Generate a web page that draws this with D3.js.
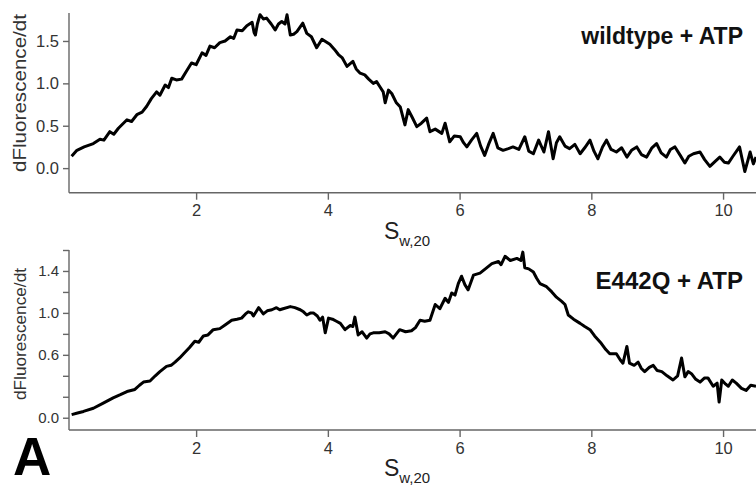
<!DOCTYPE html>
<html>
<head>
<meta charset="utf-8">
<script src="https://cdn.jsdelivr.net/npm/d3@7"></script>
<style>
  body { margin: 0; background: #fff; }
  svg { display: block; font-family: "Liberation Sans", Arial, sans-serif; }
</style>
</head>
<body>
<div id="chart"></div>
<script>
// sedimentation coefficient (S) and dF/dt values
var wtS = [0.11,0.19,0.30,0.44,0.54,0.60,0.69,0.75,0.82,0.95,1.02,1.10,1.18,1.25,1.32,1.40,1.45,1.53,1.58,1.63,1.70,1.78,1.85,1.93,2.00,2.09,2.15,2.21,2.28,2.36,2.44,2.52,2.57,2.62,2.70,2.77,2.85,2.88,2.90,2.93,2.97,3.02,3.07,3.14,3.20,3.25,3.30,3.35,3.38,3.43,3.48,3.53,3.62,3.68,3.75,3.83,3.91,3.97,4.03,4.10,4.16,4.22,4.29,4.38,4.43,4.49,4.56,4.62,4.69,4.74,4.79,4.84,4.87,4.92,4.97,5.04,5.10,5.17,5.22,5.28,5.35,5.42,5.50,5.55,5.63,5.73,5.78,5.85,5.92,6.01,6.06,6.11,6.18,6.26,6.32,6.38,6.44,6.51,6.58,6.66,6.74,6.81,6.90,6.99,7.05,7.12,7.20,7.28,7.35,7.42,7.47,7.52,7.60,7.67,7.75,7.83,7.90,7.98,8.04,8.10,8.17,8.23,8.30,8.38,8.46,8.54,8.61,8.69,8.76,8.84,8.92,8.99,9.06,9.14,9.20,9.27,9.35,9.42,9.48,9.55,9.65,9.72,9.80,9.88,9.95,10.02,10.08,10.15,10.25,10.33,10.38,10.41,10.46,10.50];
var wtV = [0.14,0.21,0.25,0.29,0.34,0.33,0.43,0.40,0.47,0.57,0.55,0.63,0.66,0.73,0.82,0.90,0.86,0.98,0.95,1.06,1.04,1.05,1.14,1.24,1.22,1.36,1.33,1.44,1.42,1.48,1.50,1.55,1.53,1.63,1.62,1.68,1.72,1.60,1.57,1.70,1.81,1.76,1.77,1.70,1.63,1.70,1.73,1.70,1.81,1.57,1.58,1.61,1.71,1.59,1.55,1.42,1.52,1.49,1.46,1.40,1.34,1.30,1.20,1.26,1.17,1.12,1.10,1.05,1.00,1.02,0.96,0.90,0.77,0.92,0.88,0.77,0.72,0.51,0.69,0.60,0.49,0.53,0.59,0.43,0.46,0.41,0.53,0.31,0.38,0.37,0.30,0.25,0.33,0.41,0.26,0.15,0.28,0.41,0.24,0.21,0.23,0.25,0.22,0.37,0.20,0.17,0.33,0.19,0.43,0.11,0.30,0.37,0.26,0.23,0.28,0.17,0.24,0.33,0.20,0.11,0.25,0.33,0.22,0.19,0.24,0.13,0.21,0.25,0.16,0.13,0.24,0.29,0.18,0.13,0.22,0.25,0.15,0.06,0.14,0.17,0.19,0.10,0.02,0.08,0.13,0.07,0.06,0.14,0.25,-0.04,0.10,0.19,0.05,0.13];

var mutS = [0.11,0.20,0.29,0.44,0.59,0.74,0.85,0.95,1.07,1.14,1.20,1.30,1.38,1.45,1.55,1.62,1.68,1.75,1.81,1.90,1.98,2.04,2.11,2.18,2.26,2.36,2.45,2.54,2.62,2.69,2.75,2.79,2.84,2.87,2.92,2.95,3.02,3.08,3.15,3.22,3.27,3.32,3.43,3.50,3.58,3.63,3.68,3.74,3.78,3.84,3.88,3.92,3.96,4.01,4.07,4.13,4.19,4.26,4.34,4.38,4.41,4.46,4.52,4.59,4.64,4.69,4.78,4.87,4.93,4.99,5.09,5.18,5.27,5.33,5.40,5.47,5.55,5.63,5.70,5.78,5.83,5.88,5.93,5.98,6.03,6.08,6.13,6.21,6.31,6.41,6.49,6.59,6.63,6.69,6.77,6.87,6.93,6.96,6.99,7.05,7.12,7.17,7.22,7.32,7.40,7.47,7.55,7.60,7.65,7.73,7.83,7.90,7.98,8.05,8.15,8.22,8.28,8.38,8.44,8.48,8.54,8.58,8.65,8.71,8.76,8.81,8.88,8.94,9.00,9.07,9.15,9.24,9.31,9.37,9.42,9.47,9.52,9.58,9.65,9.72,9.77,9.85,9.91,9.94,9.98,10.04,10.08,10.14,10.20,10.28,10.35,10.42,10.50];
var mutV = [0.03,0.045,0.06,0.09,0.14,0.19,0.22,0.25,0.27,0.31,0.34,0.35,0.40,0.44,0.49,0.50,0.53,0.57,0.61,0.67,0.73,0.72,0.78,0.79,0.84,0.85,0.89,0.93,0.94,0.95,0.99,1.01,1.00,0.97,1.02,1.05,0.99,1.02,1.03,1.05,1.03,1.04,1.06,1.05,1.03,1.01,0.98,1.00,1.00,0.97,0.93,0.96,0.81,0.95,0.94,0.92,0.90,0.84,0.88,0.87,0.96,0.79,0.82,0.76,0.80,0.81,0.81,0.82,0.80,0.76,0.84,0.82,0.83,0.86,0.93,0.92,0.93,1.08,1.04,1.14,1.10,1.19,1.17,1.28,1.35,1.27,1.22,1.36,1.38,1.43,1.47,1.49,1.46,1.54,1.50,1.52,1.50,1.58,1.43,1.42,1.39,1.33,1.28,1.25,1.20,1.15,1.11,1.08,0.98,0.94,0.90,0.87,0.84,0.78,0.71,0.65,0.61,0.61,0.55,0.52,0.68,0.52,0.50,0.53,0.47,0.44,0.48,0.50,0.45,0.44,0.40,0.36,0.40,0.57,0.39,0.44,0.42,0.37,0.34,0.38,0.38,0.30,0.33,0.15,0.36,0.32,0.30,0.36,0.33,0.28,0.26,0.31,0.30];

var xTicks = [2, 4, 6, 8, 10];
var wtTicks = [0, 0.5, 1.0, 1.5];
var mutTicks = [0, 0.2, 0.4, 0.6, 0.8, 1.0, 1.2, 1.4, 1.6];
var mutLabelled = [0, 0.6, 1.0, 1.4];

var svg = d3.select("#chart")
  .append("svg")
  .attr("width", 756)
  .attr("height", 487);

var x = d3.scaleLinear().domain([0.07, 10.5]).range([69, 756]);

var panels = [
  { s: wtS, v: wtV, y: d3.scaleLinear().domain([-0.29, 1.83]).range([192.7, 13]),
    ticks: wtTicks, labelled: wtTicks, title: "wildtype + ATP", titleY: 44, titleSize: 23,
    yLabelY: 93, yLabelLen: 158, yLabelSize: 19, yFont: 16.5 },
  { s: mutS, v: mutV, y: d3.scaleLinear().domain([-0.117, 1.6]).range([430, 250]),
    ticks: mutTicks, labelled: mutLabelled, title: "E442Q + ATP", titleY: 289, titleSize: 24,
    yLabelY: 334, yLabelLen: 132, yLabelSize: 16.5, yFont: 15 }
];

panels.forEach(function(p) {
  var y = p.y;
  var yBottom = y.range()[0];

  // x axis
  var gx = svg.append("g")
    .attr("transform", "translate(0," + yBottom + ")")
    .call(d3.axisBottom(x).tickValues(xTicks).tickSize(7).tickSizeOuter(0).tickPadding(5)
      .tickFormat(d3.format("d")));

  // y axis
  var gy = svg.append("g")
    .attr("transform", "translate(69,0)")
    .call(d3.axisLeft(y).tickValues(p.ticks).tickSize(6).tickSizeOuter(0).tickPadding(4)
      .tickFormat(function(d) { return p.labelled.indexOf(d) >= 0 ? d3.format(".1f")(d) : ""; }));

  gx.select(".domain").attr("d", "M69,0H756");
  gy.select(".domain").attr("d", "M0," + y.range()[1] + "V" + yBottom);

  [gx, gy].forEach(function(g) {
    g.selectAll(".domain, .tick line").attr("stroke", "#666").attr("stroke-width", 1.4);
    g.selectAll(".tick text").attr("fill", "#333").attr("font-size", 16.5)
      .attr("font-family", "Liberation Sans, Arial, sans-serif");
  });
  gy.selectAll(".tick text").attr("font-size", p.yFont);

  // x axis title S w,20
  var t = svg.append("text")
    .attr("x", 384)
    .attr("y", yBottom + 46)
    .attr("fill", "#222")
    .attr("font-size", 23);
  t.append("tspan").text("S");
  t.append("tspan").attr("font-size", 15).attr("dy", 7).text("w,20");

  // y axis title
  svg.append("text")
    .attr("transform", "translate(26," + p.yLabelY + ") rotate(-90)")
    .attr("text-anchor", "middle")
    .attr("fill", "#333")
    .attr("font-size", p.yLabelSize)
    .attr("textLength", p.yLabelLen)
    .attr("lengthAdjust", "spacingAndGlyphs")
    .text("dFluorescence/dt");

  // trace
  var pts = d3.zip(p.s, p.v);
  svg.append("path")
    .datum(pts)
    .attr("fill", "none")
    .attr("stroke", "#000")
    .attr("stroke-width", 3)
    .attr("stroke-linejoin", "round")
    .attr("d", d3.line().x(function(d) { return x(d[0]); }).y(function(d) { return y(d[1]); }));

  // panel title
  svg.append("text")
    .attr("x", 743)
    .attr("y", p.titleY)
    .attr("text-anchor", "end")
    .attr("font-weight", "bold")
    .attr("font-size", p.titleSize)
    .attr("fill", "#111")
    .text(p.title);
});

svg.append("text")
  .attr("x", 13)
  .attr("y", 475)
  .attr("font-weight", "bold")
  .attr("font-size", 53)
  .attr("fill", "#000")
  .text("A");
</script>
</body>
</html>
